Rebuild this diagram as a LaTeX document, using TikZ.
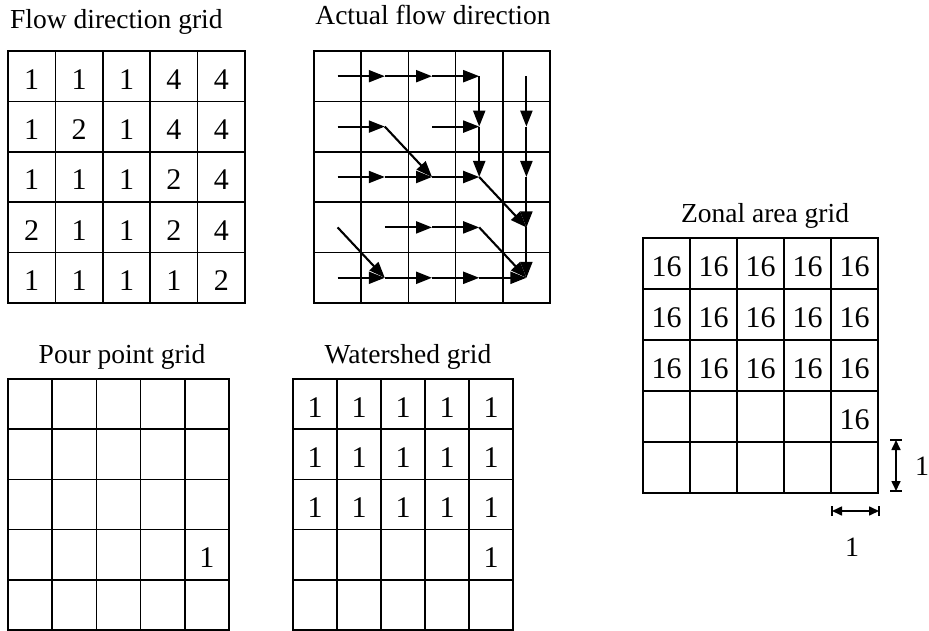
\documentclass[tikz,border=0pt]{standalone}
\usepackage{fontspec}
\setmainfont{Liberation Serif}
\usetikzlibrary{arrows.meta}
\tikzset{
  gridline/.style={line width=1.6pt, line cap=rect},
  cellnum/.style={font=\fontsize{30}{30}\selectfont, inner sep=0pt, yshift=-3pt},
  title/.style={font=\fontsize{27.5}{27.5}\selectfont, inner sep=0pt, anchor=base},
  flow/.style={line width=2.1pt, -{Triangle[length=16pt,width=12pt]}},
  scalebar/.style={line width=1.6pt, {Triangle[length=10pt,width=9pt]}-{Triangle[length=10pt,width=9pt]}},
  scaletick/.style={line width=1.6pt},
  scalelabel/.style={font=\fontsize{28}{28}\selectfont, inner sep=0pt}
}
\newcommand\drawcells[5]{%
  \foreach \i in {0,...,5}{%
    \draw[gridline] ({#1+\i*#3},#2) -- ({#1+\i*#3},{#2+5*#4});
    \draw[gridline] (#1,{#2+\i*#4}) -- ({#1+5*#3},{#2+\i*#4});
  }%
  \foreach \r in {0,...,4}{\foreach \c in {0,...,4}{%
    \coordinate (#5-\r-\c) at ({#1+(\c+0.5)*#3},{#2+(\r+0.5)*#4});}}%
}
\begin{document}
\begin{tikzpicture}[x=1pt,y=-1pt]
\useasboundingbox (0,0) rectangle (929,631);

% titles
\node[title, anchor=base west] (t-flow) at (10,29) {Flow direction grid};
\node[title] (t-act) at (433,25) {Actual flow direction};
\node[title] (t-zon) at (765,223) {Zonal area grid};
\node[title] (t-pour) at (122,363) {Pour point grid};
\node[title] (t-ws) at (408,363) {Watershed grid};

% grids
\drawcells{8}{51}{47.4}{50.4}{f}
\drawcells{314}{51}{47.2}{50.4}{a}
\drawcells{8}{379}{44.2}{50.2}{p}
\drawcells{293}{379}{44}{50.2}{w}
\drawcells{643}{238}{47}{51}{z}

% flow direction values
\foreach \row [count=\r from 0] in {{1,1,1,4,4},{1,2,1,4,4},{1,1,1,2,4},{2,1,1,2,4},{1,1,1,1,2}}{%
  \foreach \v [count=\c from 0] in \row {%
    \node[cellnum] (fn-\r-\c) at (f-\r-\c) {\v};}}

% actual flow arrows
\draw[flow] (a-0-0) -- (a-0-1);
\draw[flow] (a-0-1) -- (a-0-2);
\draw[flow] (a-0-2) -- (a-0-3);
\draw[flow] (a-0-3) -- (a-1-3);
\draw[flow] (a-0-4) -- (a-1-4);
\draw[flow] (a-1-0) -- (a-1-1);
\draw[flow] (a-1-1) -- (a-2-2);
\draw[flow] (a-1-2) -- (a-1-3);
\draw[flow] (a-1-3) -- (a-2-3);
\draw[flow] (a-1-4) -- (a-2-4);
\draw[flow] (a-2-0) -- (a-2-1);
\draw[flow] (a-2-1) -- (a-2-2);
\draw[flow] (a-2-2) -- (a-2-3);
\draw[flow] (a-2-3) -- (a-3-4);
\draw[flow] (a-2-4) -- (a-3-4);
\draw[flow] (a-3-0) -- (a-4-1);
\draw[flow] (a-3-1) -- (a-3-2);
\draw[flow] (a-3-2) -- (a-3-3);
\draw[flow] (a-3-3) -- (a-4-4);
\draw[flow] (a-3-4) -- (a-4-4);
\draw[flow] (a-4-0) -- (a-4-1);
\draw[flow] (a-4-1) -- (a-4-2);
\draw[flow] (a-4-2) -- (a-4-3);
\draw[flow] (a-4-3) -- (a-4-4);

% pour point
\node[cellnum] (pn-3-4) at (p-3-4) {1};

% watershed
\foreach \r in {0,1,2}{\foreach \c in {0,...,4}{%
  \node[cellnum] (wn-\r-\c) at (w-\r-\c) {1};}}
\node[cellnum] (wn-3-4) at (w-3-4) {1};

% zonal area
\foreach \r in {0,1,2}{\foreach \c in {0,...,4}{%
  \node[cellnum] (zn-\r-\c) at (z-\r-\c) {16};}}
\node[cellnum] (zn-3-4) at (z-3-4) {16};

% scale bars
\coordinate (sv1) at (896,440);
\coordinate (sv2) at (896,491);
\draw[scalebar] (sv1) -- (sv2);
\draw[scaletick] ([xshift=-6pt]sv1) -- ([xshift=6pt]sv1);
\draw[scaletick] ([xshift=-6pt]sv2) -- ([xshift=6pt]sv2);
\node[scalelabel] (lv) at (922,466) {1};

\coordinate (sh1) at (832,511);
\coordinate (sh2) at (879,511);
\draw[scalebar] (sh1) -- (sh2);
\draw[scaletick] ([yshift=-5pt]sh1) -- ([yshift=5pt]sh1);
\draw[scaletick] ([yshift=-5pt]sh2) -- ([yshift=5pt]sh2);
\node[scalelabel] (lh) at (852,547) {1};
\end{tikzpicture}
\end{document}
